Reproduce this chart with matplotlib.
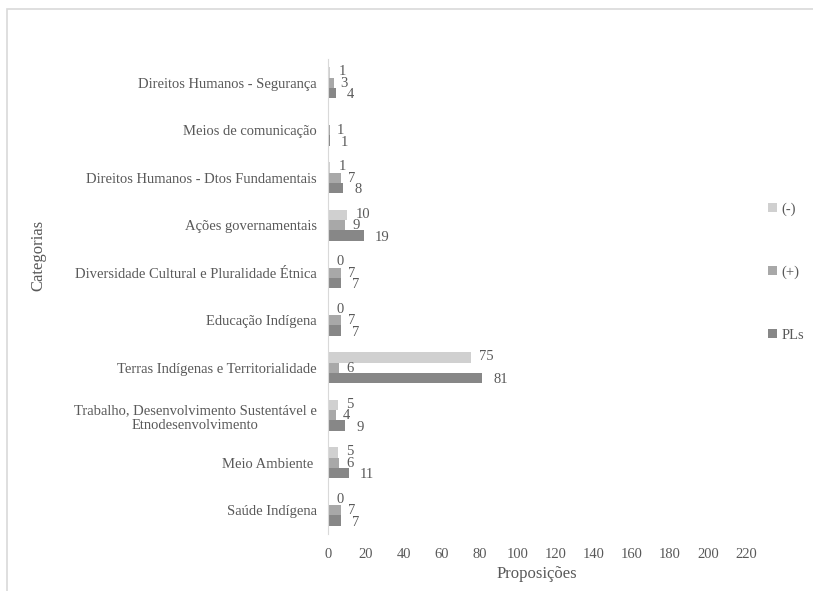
import numpy as np
import matplotlib.pyplot as plt
from matplotlib.patches import Rectangle

plt.rcParams['font.family'] = ['Liberation Serif', 'DejaVu Serif']

# categorias de baixo para cima
categorias = ['Saúde Indígena',
              'Meio Ambiente ',
              'Trabalho, Desenvolvimento Sustentável e\nEtnodesenvolvimento',
              'Terras Indígenas e Territorialidade',
              'Educação Indígena',
              'Diversidade Cultural e Pluralidade Étnica',
              'Ações governamentais',
              'Direitos Humanos - Dtos Fundamentais',
              'Meios de comunicação',
              'Direitos Humanos - Segurança']

negativas = [0, 5, 5, 75, 0, 0, 10, 1, None, 1]
positivas = [7, 6, 4, 6, 7, 7, 9, 7, 1, 3]
pls = [7, 11, 9, 81, 7, 7, 19, 8, 1, 4]

series = [('(-)', negativas, '#d0d0d0'),
          ('(+)', positivas, '#a8a8a8'),
          ('PLs', pls, '#878787')]

texto = '#595959'

fig = plt.figure(figsize=(8.13, 5.91), dpi=100)
ax = fig.add_axes([328 / 813, 1 - 534 / 591, (746 - 328) / 813, (534 - 59) / 591])

y = np.arange(len(categorias))
h = 0.22
offsets = [h, 0, -h]
# deslocamento dos rótulos de valor (pontos)
desloc = [(6, 0.5), (5, -0.5), (8, -1)]

for (nome, vals, cor), off, (dx, dy) in zip(series, offsets, desloc):
    v = [0 if x is None else x for x in vals]
    bars = ax.barh(y + off, v, height=h, color=cor, label=nome)
    for b, val in zip(bars, vals):
        if val is None:
            continue
        ax.annotate(str(val), (b.get_width(), b.get_y() + b.get_height() / 2),
                    xytext=(dx, dy), textcoords='offset points',
                    ha='left', va='center', fontsize=10.5, color=texto)

ax.set_xlim(0, 220)
ax.set_ylim(-0.5, len(categorias) - 0.5)
ax.set_xticks(np.arange(0, 221, 20))
ax.set_yticks(y)
ax.set_yticklabels(categorias, multialignment='center')
ax.tick_params(axis='both', length=0, labelsize=10.5, labelcolor=texto)
ax.tick_params(axis='y', pad=8)
ax.tick_params(axis='x', pad=10)

for s in ['top', 'right', 'bottom']:
    ax.spines[s].set_visible(False)
ax.spines['left'].set_color('#d9d9d9')

ax.set_xlabel('Proposições', fontsize=12, color=texto, labelpad=4)
fig.text(38 / 813, 1 - 255 / 591, 'Categorias', rotation=90, fontsize=12,
         color=texto, ha='center', va='center')

fig.legend(loc='center left', bbox_to_anchor=(755 / 813, 1 - 272 / 591),
           frameon=False, fontsize=10.5, labelcolor=texto,
           handlelength=0.6, handleheight=0.6, handletextpad=0.3,
           labelspacing=3.4)

# moldura
fig.patches.append(Rectangle((7 / 813, -0.2), 1.2, 1.2 - 9 / 591,
                             transform=fig.transFigure, fill=False,
                             edgecolor='#d9d9d9', lw=1.2))

fig.savefig('out.png', dpi=100)
